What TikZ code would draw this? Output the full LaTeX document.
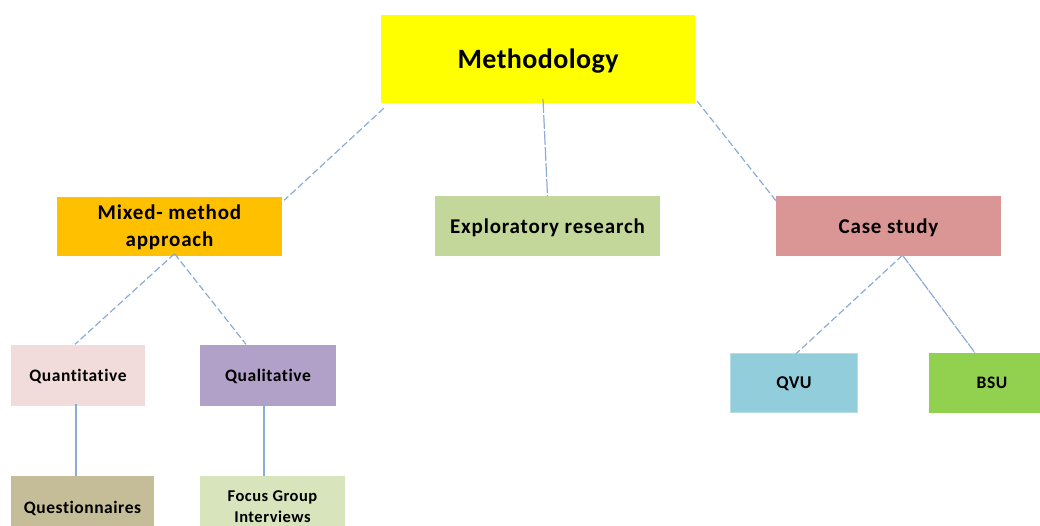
\documentclass[tikz,border=0pt]{standalone}
\usepackage{fontspec}
\setmainfont[Ligatures=NoCommon]{Carlito}
\newfontfamily\headfont[Ligatures=NoCommon, LetterSpace=1.5]{Carlito}
\newfontfamily\boxfont[Ligatures=NoCommon, LetterSpace=4]{Carlito}
\newfontfamily\smallfont[Ligatures=NoCommon, LetterSpace=3]{Carlito}
\definecolor{linkblue}{RGB}{140,172,212}
\definecolor{cYellow}{RGB}{255,255,0}
\definecolor{cOrange}{RGB}{255,192,0}
\definecolor{cOlive}{RGB}{196,215,155}
\definecolor{cRose}{RGB}{218,150,148}
\definecolor{cPink}{RGB}{242,220,219}
\definecolor{cLilac}{RGB}{177,160,199}
\definecolor{cKhaki}{RGB}{196,189,151}
\definecolor{cPale}{RGB}{216,228,188}
\definecolor{cSky}{RGB}{146,205,220}
\definecolor{cSkyEdge}{RGB}{183,222,232}
\definecolor{cLime}{RGB}{146,208,80}
\begin{document}
\begin{tikzpicture}[x=1pt,y=-1pt,
  box/.style={inner sep=0pt, align=center},
  oneline/.style={text depth=0pt},
  link/.style={draw=linkblue, line width=1.2pt, dash pattern=on 7pt off 3pt},
  solidlink/.style={draw=linkblue, line width=1.2pt}]
\useasboundingbox (0,0) rectangle (1040,526);
\begin{scope}
\clip (0,0) rectangle (1040,526);
% top level
\node[box, oneline, fill=cYellow, minimum width=314pt, minimum height=88pt, font=\headfont\bfseries\fontsize{28}{32}\selectfont] (meth) at (538,59) {Methodology};
% second level
\node[box, fill=cOrange, minimum width=225pt, minimum height=59pt, font=\boxfont\bfseries\fontsize{21}{27}\selectfont] (mixed) at (169.5,227) {Mixed- method\\approach};
\node[box, oneline, fill=cOlive, minimum width=225pt, minimum height=60pt, font=\boxfont\bfseries\fontsize{21}{24}\selectfont] (expl) at (547.5,226) {Exploratory research};
\node[box, oneline, fill=cRose, minimum width=225pt, minimum height=60pt, font=\boxfont\bfseries\fontsize{21}{24}\selectfont] (case) at (888.5,226) {Case study};
% third level
\node[box, oneline, fill=cPink, minimum width=134pt, minimum height=61pt, font=\smallfont\bfseries\fontsize{17.5}{20}\selectfont] (quant) at (78,375) {Quantitative};
\node[box, oneline, fill=cLilac, minimum width=136pt, minimum height=61pt, font=\smallfont\bfseries\fontsize{17.5}{20}\selectfont] (qual) at (268,375) {Qualitative};
\node[box, oneline, fill=cSky, draw=cSkyEdge, line width=1.5pt, minimum width=127pt, minimum height=59pt, font=\smallfont\bfseries\fontsize{18}{20}\selectfont] (qvu) at (794,383) {QVU};
\node[box, oneline, fill=cLime, minimum width=126pt, minimum height=60pt, font=\smallfont\bfseries\fontsize{17.5}{20}\selectfont] (bsu) at (992,383) {BSU};
% fourth level
\node[box, oneline, fill=cKhaki, minimum width=143pt, minimum height=62pt, font=\smallfont\bfseries\fontsize{17.5}{20}\selectfont] (quest) at (82.5,507) {Questionnaires};
\node[box, fill=cPale, minimum width=145pt, minimum height=62pt, font=\smallfont\bfseries\fontsize{16.5}{21}\selectfont] (focus) at (272.5,507) {Focus Group\\Interviews};
\end{scope}
% connectors
\draw[link] ([shift={(3pt,-5pt)}]meth.south west) -- ([xshift=2pt,yshift=-3pt]mixed.north east);
\draw[link, dash pattern=on 14pt off 2pt] ([xshift=5pt,yshift=4pt]meth.south) -- (expl.north);
\draw[link] ([shift={(2pt,2pt)}]meth.south east) -- ([xshift=1pt,yshift=-6pt]case.north west);
\draw[link] ([xshift=5pt,yshift=3pt]mixed.south) -- ([xshift=-3pt]quant.north);
\draw[link] ([xshift=5pt,yshift=3pt]mixed.south) -- ([xshift=-22pt]qual.north);
\draw[solidlink] ([xshift=-2pt,yshift=2pt]quant.south) -- ([xshift=-2pt]quant.south |- quest.north);
\draw[solidlink] ([xshift=-4pt,yshift=2pt]qual.south) -- ([xshift=-4pt]qual.south |- focus.north);
\draw[link] ([xshift=14pt,yshift=1pt]case.south) -- ([xshift=2pt,yshift=-1pt]qvu.north);
\draw[link, dash pattern=on 10pt off 1pt] ([xshift=14pt,yshift=1pt]case.south) -- ([xshift=-17pt]bsu.north);
\end{tikzpicture}
\end{document}
